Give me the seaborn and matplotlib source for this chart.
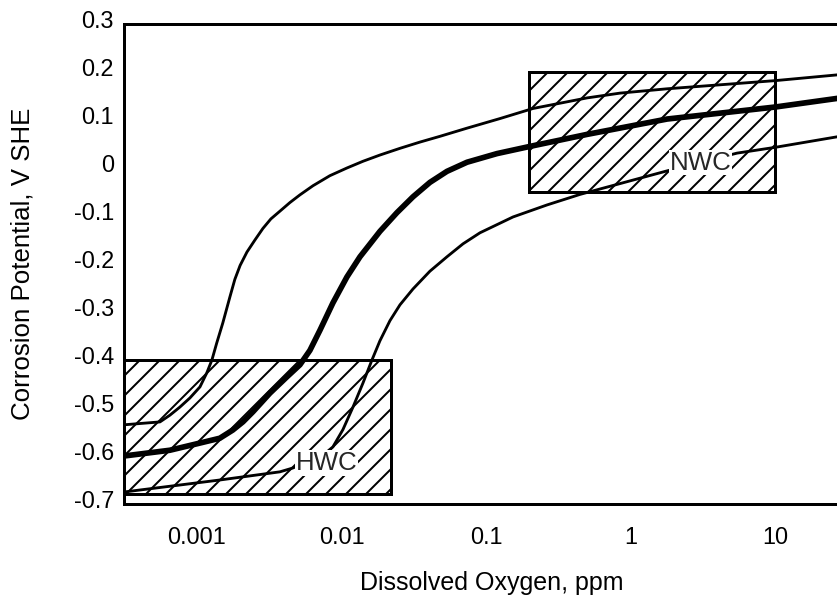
import numpy as np
import pandas as pd
import matplotlib
matplotlib.use("Agg")
import matplotlib.pyplot as plt
import matplotlib.transforms as mtransforms
from matplotlib.patches import Rectangle
import seaborn as sns

# Dissolved oxygen (ppm) and corrosion potential (V SHE) for the three curves
upper_do = [3.13e-4, 5.55e-4, 6.50e-4, 7.63e-4, 8.95e-4, 1.05e-3, 1.17e-3,
            1.27e-3, 1.37e-3, 1.51e-3, 1.69e-3, 1.83e-3, 1.99e-3, 2.22e-3,
            2.52e-3, 2.86e-3, 3.25e-3, 3.75e-3, 4.40e-3, 5.16e-3, 6.35e-3,
            8.32e-3, 0.01091, 0.01409, 0.01846, 0.02541, 0.03493, 0.04805,
            0.0739, 0.125, 0.2115, 0.500, 0.846, 1.79, 10.0, 26.9, 38.7]
upper_ecp = [-0.535, -0.529, -0.515, -0.498, -0.479, -0.456, -0.427,
             -0.400, -0.365, -0.323, -0.269, -0.232, -0.203, -0.175,
             -0.150, -0.126, -0.106, -0.090, -0.072, -0.056, -0.037,
             -0.016, 0.000, 0.014, 0.027, 0.041, 0.054, 0.066,
             0.083, 0.103, 0.124, 0.146, 0.156, 0.165, 0.182, 0.194, 0.199]

middle_do = [3.13e-4, 6.50e-4, 1.05e-3, 1.44e-3, 1.77e-3, 2.08e-3, 2.44e-3,
             3.20e-3, 4.20e-3, 5.16e-3, 6.05e-3, 7.10e-3, 8.73e-3, 0.01091,
             0.01343, 0.01846, 0.02421, 0.03126, 0.04093, 0.0537, 0.0739,
             0.1191, 0.2015, 0.500, 1.79, 10.0, 26.9, 38.7]
middle_ecp = [-0.600, -0.588, -0.573, -0.563, -0.546, -0.529, -0.508,
              -0.469, -0.435, -0.410, -0.380, -0.338, -0.281, -0.227,
              -0.185, -0.132, -0.093, -0.060, -0.030, -0.007, 0.012,
              0.030, 0.045, 0.070, 0.102, 0.127, 0.145, 0.150]

lower_do = [3.13e-4, 1.44e-3, 3.75e-3, 4.61e-3, 6.05e-3, 7.69e-3, 8.73e-3,
            0.01024, 0.01202, 0.01409, 0.01626, 0.01846, 0.02166, 0.02541,
            0.03126, 0.04093, 0.0537, 0.06933, 0.09085, 0.1538, 0.2642,
            0.4474, 1.79, 5.458, 10.0, 26.9, 38.7]
lower_ecp = [-0.675, -0.650, -0.633, -0.625, -0.610, -0.595, -0.581,
             -0.545, -0.498, -0.448, -0.400, -0.360, -0.318, -0.285,
             -0.252, -0.215, -0.185, -0.158, -0.135, -0.102, -0.077,
             -0.055, -0.006, 0.031, 0.043, 0.065, 0.072]

# Water-chemistry regions: (DO min, DO max, ECP min, ECP max)
hwc_region = (3.13e-4, 0.022, -0.68, -0.40)
nwc_region = (0.2, 10.0, -0.05, 0.20)
region_names = ["HWC", "NWC"]
name_pos = [(0.0079, -0.615), (3.06, 0.011)]

x_ticks = [0.001, 0.01, 0.1, 1, 10]
x_tick_labels = ["0.001", "0.01", "0.1", "1", "10"]
y_ticks = [0.3, 0.2, 0.1, 0.0, -0.1, -0.2, -0.3, -0.4, -0.5, -0.6, -0.7]
y_tick_labels = ["0.3", "0.2", "0.1", "0", "-0.1", "-0.2", "-0.3", "-0.4",
                 "-0.5", "-0.6", "-0.7"]

sns.set_theme(style="white")
plt.rcParams["font.family"] = ["Liberation Sans", "DejaVu Sans"]
plt.rcParams["hatch.linewidth"] = 1.2
plt.rcParams["hatch.color"] = "black"

fig = plt.figure(figsize=(837 / 120, 601 / 120), dpi=120)
ax = fig.add_axes([124 / 837, 97 / 601, 736 / 837, 480 / 601])
ax.set_xscale("log")

curves = [(upper_do, upper_ecp, 1.7), (middle_do, middle_ecp, 3.4),
          (lower_do, lower_ecp, 1.7)]
for xs, ys, lw in curves:
    df = pd.DataFrame({"do": xs, "ecp": ys})
    sns.lineplot(data=df, x="do", y="ecp", ax=ax, color="black", linewidth=lw,
                 estimator=None, sort=False, zorder=3,
                 solid_joinstyle="round", solid_capstyle="round")

for (x0, x1, y0, y1) in [hwc_region, nwc_region]:
    ax.add_patch(Rectangle((x0, y0), x1 - x0, y1 - y0, facecolor="none",
                           edgecolor="black", linewidth=1.8, hatch="//",
                           zorder=2))
# white backing for the HWC region so it covers the axis ticks
ax.add_patch(Rectangle((hwc_region[0], hwc_region[2]),
                       hwc_region[1] - hwc_region[0],
                       hwc_region[3] - hwc_region[2],
                       facecolor="white", edgecolor="none", zorder=1.9))

for name, (tx, ty) in zip(region_names, name_pos):
    ax.text(tx, ty, name, fontsize=15.5, ha="center", va="center", zorder=4,
            bbox=dict(facecolor="white", edgecolor="none", pad=0.5))

ax.set_xlim(3.13e-4, 38.7)
ax.set_ylim(-0.7, 0.3)
ax.set_xticks(x_ticks)
ax.set_xticklabels(x_tick_labels)
ax.xaxis.set_minor_locator(matplotlib.ticker.NullLocator())
ax.set_yticks(y_ticks)
ax.set_yticklabels(y_tick_labels)

ax.tick_params(axis="x", direction="in", length=21, width=1.8, pad=13.5,
               labelsize=14, colors="black")
ax.tick_params(axis="y", direction="in", length=15, width=2.0, pad=6,
               labelsize=14, colors="black")
# y tick labels sit slightly above their ticks
lift = mtransforms.ScaledTranslation(0, 3 / 72, fig.dpi_scale_trans)
for lbl in ax.get_yticklabels():
    lbl.set_transform(lbl.get_transform() + lift)

for side in ["left", "top", "bottom", "right"]:
    ax.spines[side].set_color("black")
    ax.spines[side].set_linewidth(1.8)

ax.set_xlabel("Dissolved Oxygen, ppm", fontsize=15, color="black")
ax.set_ylabel("Corrosion Potential, V SHE", fontsize=15.5, color="black")
ax.xaxis.set_label_coords(0.5, -0.14)
ax.yaxis.set_label_coords(-0.121, 0.5)

fig.savefig("out.png", dpi=120)
